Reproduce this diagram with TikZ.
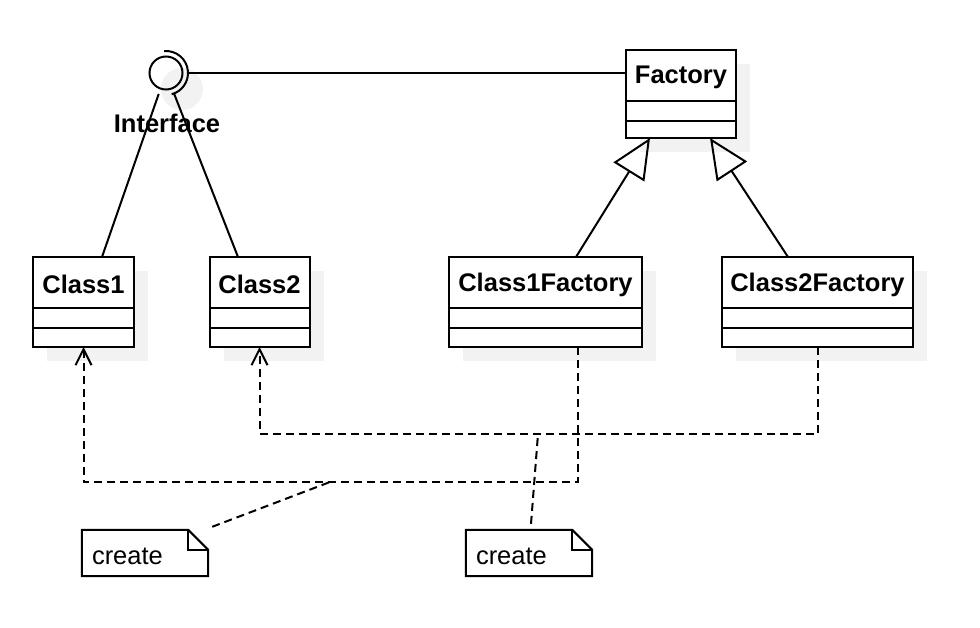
\documentclass[tikz,border=0pt]{standalone}
\usepackage{fontspec}
\setmainfont{Liberation Sans}
\usetikzlibrary{arrows.meta,calc}
\definecolor{shadowc}{HTML}{F2F2F2}
\tikzset{
  lw/.style={line width=2pt},
  classbox/.style={draw, lw, inner sep=0pt, outer sep=0pt},
  classtitle/.style={font=\fontsize{25.5}{30}\selectfont\bfseries, inner sep=0pt},
  notetext/.style={font=\fontsize{25.5}{30}\selectfont, inner sep=0pt, anchor=west},
  dep/.style={lw, dash pattern=on 8pt off 5pt, -{Straight Barb[length=16pt,width=16pt,line width=2pt]}},
  deplink/.style={lw, dash pattern=on 8pt off 5pt},
  gen/.style={lw, -{Triangle[open,length=40pt,width=36pt,line width=2pt]}},
  assoc/.style={lw}
}
\newcommand\myclassbox[6]{%
  % #1 name, #2 cx, #3 cy, #4 width, #5 height, #6 title
  \fill[shadowc] ($(#2,#3)+(14,14)+(-#4/2,-#5/2)$) rectangle ($(#2,#3)+(14,14)+(#4/2,#5/2)$);
  \node[classbox, minimum width=#4pt, minimum height=#5pt, fill=white] (#1) at (#2,#3) {};
  \draw[lw] ($(#1.north west)+(0,51)$) -- ($(#1.north east)+(0,51)$);
  \draw[lw] ($(#1.north west)+(0,71)$) -- ($(#1.north east)+(0,71)$);
  \node[classtitle] at ($(#1.north)+(0,27.5)$) {#6};
}
\begin{document}
\begin{tikzpicture}[x=1pt,y=-1pt]
\useasboundingbox[fill=white] (0,0) rectangle (980,628);

% interface shadow
\fill[shadowc] (182,89) circle[radius=21pt];

% classes
\myclassbox{factory}{681}{94}{110}{88}{Factory}
\myclassbox{class1}{83.5}{302}{101}{90}{Class1}
\myclassbox{class2}{259.5}{302}{100}{90}{Class2}
\myclassbox{cof}{545.5}{302}{193}{90}{Class1Factory}
\myclassbox{ctf}{817.5}{302}{191}{90}{Class2Factory}

% interface lollipop
\node[circle, minimum size=44pt, inner sep=0pt] (iface) at (166,73) {};
\draw[lw] (iface.center) circle[radius=16.5pt];
\draw[lw] ($(iface.center)+(95:22pt)$) arc[start angle=95, end angle=-75, radius=22pt];
\node[classtitle] (ifacelabel) at (167,123) {Interface};

% associations
\draw[assoc] (iface.east) -- (iface.east -| factory.west);
\draw[assoc] (iface) -- ([xshift=18.5pt]class1.north);
\draw[assoc] (iface) -- ([xshift=-21.5pt]class2.north);

% generalizations
\draw[gen] ([xshift=30.5pt]cof.north) -- ([xshift=-31pt]factory.south);
\draw[gen] ([xshift=-29.5pt]ctf.north) -- ([xshift=29pt]factory.south);

% junction points
\coordinate (j1) at (330,482);
\coordinate (j2) at (538,434);

% dependencies
\draw[dep] ([xshift=32.5pt]cof.south) |- (j1) -| (class1.south);
\draw[dep] (ctf.south) |- (j2) -| (class2.south);

% notes
\node[minimum width=126pt, minimum height=46pt, inner sep=0pt] (note1) at (145,553) {};
\node[minimum width=126pt, minimum height=46pt, inner sep=0pt] (note2) at (529,553) {};
\foreach \n in {note1,note2}{
  \draw[lw, line join=miter] (\n.north west) -- ($(\n.north east)+(-20,0)$) -- ($(\n.north east)+(0,20)$) -- (\n.south east) -- (\n.south west) -- cycle;
  \draw[lw, line join=miter] ($(\n.north east)+(-20,0)$) -- ($(\n.north east)+(-20,20)$) -- ($(\n.north east)+(0,20)$);
  \node[notetext] at ($(\n.west)+(10,3)$) {create};
}
\draw[deplink] ($(note1.north east)+(4,-3)$) -- (j1);
\draw[deplink] ($(note2.north)+(2,-6)$) -- (j2);
\end{tikzpicture}
\end{document}
